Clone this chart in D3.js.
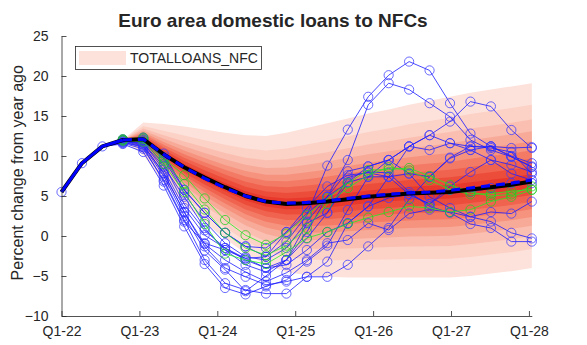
<!DOCTYPE html>
<html>
<head>
<meta charset="utf-8">
<script src="https://cdn.jsdelivr.net/npm/d3@7"></script>
<style>
  body { margin: 0; background: #fff; }
  svg { display: block; }
  text { font-family: "Liberation Sans", Arial, Helvetica, sans-serif; fill: #262626; }
</style>
</head>
<body>
<svg id="chart" width="587" height="345"></svg>
<script>
// ---- data (period index 0 = Q1-22, one step per period) ----
const history = [5.5, 9.1, 11.2];            // observed growth, shared by every path
const forecastStart = 3;                      // first period of the projection paths

const xTickLabels = ["Q1-22", "Q1-23", "Q1-24", "Q1-25", "Q1-26", "Q1-27", "Q1-28"];
const xTickAt     = [0, 3.81, 7.62, 11.43, 15.24, 19.05, 22.86];
const yTicks      = [-10, -5, 0, 5, 10, 15, 20, 25];

// central projection (median) over the whole horizon
const median = [5.5, 9.1, 11.2, 12.0, 12.1, 10.2, 8.6, 7.3, 6.1, 5.0, 4.3, 4.0,
                4.1, 4.3, 4.6, 4.9, 5.1, 5.3, 5.4, 5.5, 5.8, 6.1, 6.4, 6.8];
// mean projection from the forecast start
const mean = [12.0, 12.1, 10.2, 8.6, 7.2, 6.0, 5.0, 4.3, 4.1, 4.2, 4.4, 4.7,
              5.0, 5.2, 5.4, 5.5, 5.7, 6.0, 6.3, 6.6, 7.0];
// outer fan edges (5th / 95th percentile) from the forecast start
const fanUpper = [12.0, 14.2, 14.0, 13.7, 13.3, 12.9, 12.6, 12.5, 12.9, 13.5, 14.1,
                  14.7, 15.3, 15.8, 16.4, 16.9, 17.4, 17.9, 18.3, 18.7, 19.1];
const fanLower = [12.0, 10.1, 6.7, 4.0, 1.7, -0.3, -2.2, -3.6, -4.5, -4.9, -5.1,
                  -5.2, -5.2, -5.2, -5.2, -5.2, -5.2, -5.0, -4.7, -4.4, -4.0];
// relative distance of each percentile boundary from the median (inner -> outer)
const bandShares = [0.077, 0.154, 0.234, 0.319, 0.41, 0.512, 0.63, 0.78, 1.0];
const bandColors = ["#e8382b", "#ec4d3b", "#f0634f", "#f37b66", "#f6937f",
                    "#f8aa99", "#fabfb1", "#fcd1c6", "#fde2db"];

// simulated paths from the forecast start
const bluePaths = [
  [12.0, 12.3, 10.3, 5.8, 2.9, 0.4, -1.3, -2.6, -0.7, 2.6, 8.8, 13.3, 17.4, 20.1, 21.8, 20.7, 16.6, 12.8, 11.2, 10.0, 9.1],
  [12.0, 12.0, 9.7, 5.3, 1.8, -0.9, -2.6, -3.0, -1.5, 1.8, 4.9, 9.5, 16.4, 19.1, 18.3, 16.6, 14.9, 12.0, 10.75, 9.9, 8.6],
  [11.8, 11.6, 8.7, 4.9, 1.0, -1.75, -3.6, -4.5, -3.0, -0.3, 2.9, 6.7, 8.7, 9.5, 11.2, 12.6, 14.3, 16.8, 16.2, 13.25, 11.0],
  [11.9, 11.4, 7.8, 3.0, -1.3, -4.0, -5.1, -6.1, -5.7, -5.1, -5.1, -3.6, -1.3, 1.0, 4.6, 7.4, 9.8, 11.2, 11.0, 10.5, 7.75],
  [12.1, 11.9, 9.0, 4.0, 0.7, -1.5, -3.0, -4.0, -3.6, -1.75, 0.5, 1.6, 3.7, 7.4, 7.8, 7.4, 9.7, 10.75, 9.5, 7.8, 7.0],
  [12.0, 12.2, 9.9, 5.75, 2.9, 0.4, -1.3, -1.5, 0.5, 2.8, 4.9, 8.1, 8.7, 9.5, 7.8, 4.9, 3.5, 2.4, 1.8, 0.4, -0.3],
  [11.7, 11.1, 6.8, 1.8, -0.9, -1.75, -2.8, -4.0, -3.0, 1.6, 2.9, 7.3, 8.0, 7.9, 5.5, 3.7, 2.9, 1.5, 1.0, -0.7, -0.7],
  [11.6, 10.9, 7.0, 2.0, -3.0, -5.9, -6.75, -7.2, -7.2, -5.1, -3.2, 1.6, 3.7, 4.75, 5.2, 4.0, 6.2, 8.0, 9.5, 8.9, 8.0],
  [11.8, 11.3, 7.9, 3.0, -1.0, -3.0, -4.5, -5.7, -4.6, -3.0, -0.9, -0.5, 1.6, 0.75, 2.8, 3.3, 3.0, 2.4, 3.0, 2.8, 4.3],
  [11.5, 10.5, 6.3, 1.2, -3.5, -6.5, -7.3, -6.3, -5.5, -3.2, -1.2, 3.25, 7.4, 9.5, 11.2, 10.75, 11.6, 10.75, 11.2, 11.0, 11.1],
  [11.7, 11.2, 7.5, 2.5, -1.8, -4.2, -6.9, -5.0, -3.0, 0.5, 4.9, 6.7, 7.4, 7.4, 5.2, 4.0, 5.75, 5.5, 6.0, 6.6, 6.6],
  [11.9, 11.6, 8.3, 3.5, 0.1, -1.5, -2.8, -2.6, 0.5, 3.5, 6.2, 7.6, 7.9, 7.4, 11.2, 12.6, 11.6, 11.2, 11.2, 9.9, 8.7]
];
const greenPaths = [
  [12.1, 12.3, 9.7, 7.6, 4.7, 2.0, 0.1, -1.1, 0.3, 2.6, 4.7, 6.6, 8.25, 8.3, 8.5, 7.5, 6.4, 5.5, 5.0, 5.2, 6.2],
  [12.0, 12.1, 9.4, 6.5, 3.3, 0.4, -1.5, -2.4, -1.2, 1.0, 4.0, 6.0, 7.6, 8.6, 8.2, 7.0, 5.8, 5.2, 5.3, 5.6, 5.8],
  [11.9, 11.8, 9.0, 5.5, 1.5, -2.2, -3.0, -3.5, -2.0, -0.25, 0.5, 1.5, 2.3, 3.0, 3.7, 3.5, 3.0, 3.3, 4.3, 4.9, 5.75]
];

const titleText = "Euro area domestic loans to NFCs";
const yLabelText = "Percent change from year ago";
const legendText = "TOTALLOANS_NFC";

// ---- layout ----
const svg = d3.select("#chart");
const x = d3.scaleLinear().domain([0, 23]).range([61.5, 531.8]);
const y = d3.scaleLinear().domain([-10, 25]).range([316, 36]);
const axisColor = "#262626";
const blueLine = "#1a1aff", blueCircle = "#3a3aff";

const toPoints = (vals, start) => vals.map((v, k) => ({ i: start + k, v }));
const lastObs = toPoints(history, 0).slice(-1);

// ---- fan ----
const fanData = fanUpper.map((u, k) => {
  const i = forecastStart + k;
  return { i, m: median[i], up: u - median[i], dn: median[i] - fanLower[k] };
});
const gFan = svg.append("g");
for (let b = bandShares.length - 1; b >= 0; b--) {
  const s = bandShares[b];
  gFan.append("path")
    .datum(fanData)
    .attr("fill", bandColors[b])
    .attr("d", d3.area()
      .x(d => x(d.i))
      .y0(d => y(d.m - d.dn * s))
      .y1(d => y(d.m + d.up * s)));
}

// ---- simulated paths ----
const line = d3.line().x(d => x(d.i)).y(d => y(d.v));
function drawCircles(g, pts, color) {
  g.selectAll(null).data(pts).enter().append("circle")
    .attr("cx", d => x(d.i)).attr("cy", d => y(d.v)).attr("r", 4.6)
    .attr("fill", "none").attr("stroke", color).attr("stroke-width", 0.75);
}
function drawPaths(paths, joinHistory, color, circleColor) {
  const g = svg.append("g");
  paths.forEach(p => {
    const pts = toPoints(p, forecastStart);
    g.append("path").datum(joinHistory ? lastObs.concat(pts) : pts)
      .attr("fill", "none").attr("stroke", color).attr("stroke-width", 0.8)
      .attr("d", line);
    drawCircles(g, pts, circleColor);
  });
}
drawPaths(bluePaths, true, blueLine, blueCircle);
drawPaths(greenPaths, false, "#22ee22", "#22cc22");

// observed history, marked once
const gHist = svg.append("g");
drawCircles(gHist, toPoints(history, 0), blueCircle);

// ---- median and mean ----
svg.append("path").datum(toPoints(median, 0))
  .attr("fill", "none").attr("stroke", "#000").attr("stroke-width", 4)
  .attr("stroke-linejoin", "round").attr("d", line);
svg.append("path").datum(toPoints(history.concat([mean[0]]), 0))
  .attr("fill", "none").attr("stroke", "#0000ff").attr("stroke-width", 3)
  .attr("d", line);
svg.append("path").datum(toPoints(mean, forecastStart))
  .attr("fill", "none").attr("stroke", "#0000ff").attr("stroke-width", 3.2)
  .attr("stroke-dasharray", "9,6").attr("d", line);

// ---- axes ----
const xAxis = d3.axisBottom(x).tickValues(xTickAt)
  .tickFormat((d, k) => xTickLabels[k]).tickSizeInner(-5).tickSizeOuter(0).tickPadding(10.5);
const gx = svg.append("g").attr("transform", `translate(0,${y(-10)})`).call(xAxis);
const yAxis = d3.axisLeft(y).tickValues(yTicks).tickSizeInner(-5).tickSizeOuter(0).tickPadding(13);
const gy = svg.append("g").attr("transform", `translate(${x(0)},0)`).call(yAxis);
[gx, gy].forEach(g => {
  g.select(".domain").attr("stroke", axisColor).attr("stroke-width", 0.8);
  g.selectAll(".tick line").attr("stroke", axisColor).attr("stroke-width", 0.8);
  g.selectAll(".tick text").attr("font-size", 14).attr("fill", axisColor)
    .style("font-family", '"Liberation Sans", Arial, sans-serif');
});

// ---- title and axis label ----
svg.append("text").attr("x", 273).attr("y", 27).attr("text-anchor", "middle")
  .attr("font-size", 19).attr("font-weight", "bold").attr("fill", "#000").text(titleText);
svg.append("text").attr("transform", `translate(23,${y(7.9)}) rotate(-90)`)
  .attr("text-anchor", "middle").attr("font-size", 16).text(yLabelText);

// ---- legend ----
const lg = svg.append("g");
lg.append("rect").attr("x", 75.5).attr("y", 46.5).attr("width", 186).attr("height", 23)
  .attr("fill", "#fff").attr("stroke", axisColor).attr("stroke-width", 0.8);
lg.append("rect").attr("x", 79).attr("y", 51).attr("width", 47).attr("height", 14)
  .attr("fill", bandColors[bandColors.length - 1]);
lg.append("text").attr("x", 130).attr("y", 63).attr("font-size", 14).attr("fill", "#000").text(legendText);
</script>
</body>
</html>
